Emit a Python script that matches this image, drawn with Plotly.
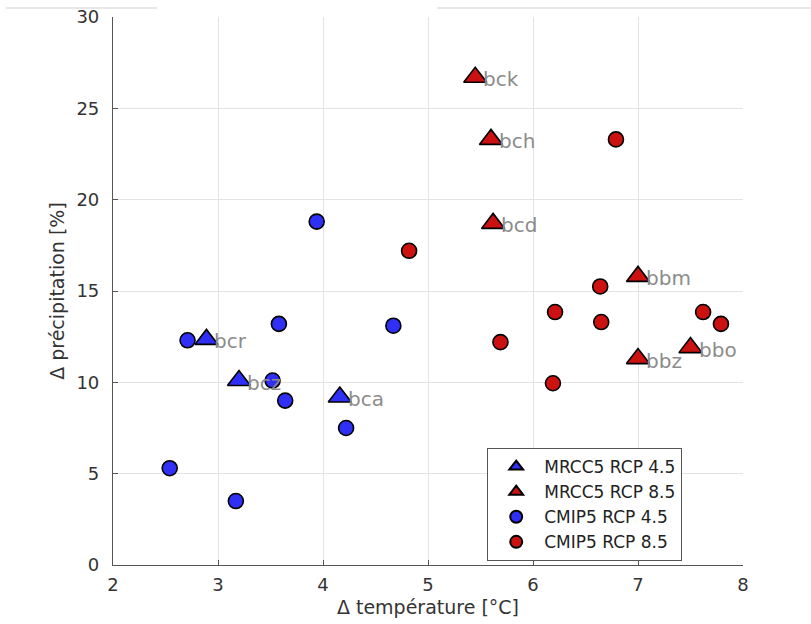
import plotly.graph_objects as go

# MRCC5 RCP 4.5 (triangles, blue)
mrcc45_names = ["bcr", "bcz", "bca"]
mrcc45_dt = [2.89, 3.20, 4.16]
mrcc45_dp = [12.35, 10.1, 9.2]

# MRCC5 RCP 8.5 (triangles, red)
mrcc85_names = ["bck", "bch", "bcd", "bbm", "bbz", "bbo"]
mrcc85_dt = [5.45, 5.60, 5.62, 7.00, 7.00, 7.50]
mrcc85_dp = [26.7, 23.3, 18.7, 15.8, 11.3, 11.9]

# CMIP5 RCP 4.5 (circles, blue)
cmip45_dt = [2.71, 2.54, 3.17, 3.52, 3.64, 3.58, 3.94, 4.22, 4.67]
cmip45_dp = [12.3, 5.3, 3.5, 10.1, 9.0, 13.2, 18.8, 7.5, 13.1]

# CMIP5 RCP 8.5 (circles, red)
cmip85_dt = [4.82, 5.69, 6.19, 6.21, 6.64, 6.65, 6.79, 7.62, 7.79]
cmip85_dp = [17.2, 12.2, 9.95, 13.85, 15.25, 13.3, 23.3, 13.85, 13.2]

x_ticks = [2, 3, 4, 5, 6, 7, 8]
y_ticks = [0, 5, 10, 15, 20, 25, 30]

BLUE = "#2f2ff5"
RED = "#cc1111"
FONT = "DejaVu Sans"

fig = go.Figure()

fig.add_trace(go.Scatter(x=cmip45_dt, y=cmip45_dp, mode="markers", name="CMIP5 RCP 4.5",
                         marker=dict(symbol="circle", size=15, color=BLUE,
                                     line=dict(color="black", width=1.6)), legendrank=3))
fig.add_trace(go.Scatter(x=cmip85_dt, y=cmip85_dp, mode="markers", name="CMIP5 RCP 8.5",
                         marker=dict(symbol="circle", size=15, color=RED,
                                     line=dict(color="black", width=1.6)), legendrank=4))
fig.add_trace(go.Scatter(x=mrcc45_dt, y=mrcc45_dp, mode="markers", name="MRCC5 RCP 4.5",
                         marker=dict(symbol="triangle-up", size=20, color=BLUE,
                                     line=dict(color="black", width=1.6)), legendrank=1))
fig.add_trace(go.Scatter(x=mrcc85_dt, y=mrcc85_dp, mode="markers", name="MRCC5 RCP 8.5",
                         marker=dict(symbol="triangle-up", size=20, color=RED,
                                     line=dict(color="black", width=1.6)), legendrank=2))

for names, xs, ys in [(mrcc45_names, mrcc45_dt, mrcc45_dp), (mrcc85_names, mrcc85_dt, mrcc85_dp)]:
    for n, xv, yv in zip(names, xs, ys):
        fig.add_annotation(x=xv, y=yv, text=n, showarrow=False, xanchor="left",
                           yanchor="middle", xshift=6, yshift=-2,
                           font=dict(family=FONT, size=20, color="#8c8c8c"))

# cropping artifact lines at top of the reference image
LINE_Y = 1.0 + 9 / 548
fig.add_shape(type="line", xref="paper", yref="paper", x0=-0.17, x1=0.07,
              y0=LINE_Y, y1=LINE_Y, line=dict(color="#cfcfcf", width=1))
fig.add_shape(type="line", xref="paper", yref="paper", x0=0.515, x1=1.11,
              y0=LINE_Y, y1=LINE_Y, line=dict(color="#cfcfcf", width=1))

axis_common = dict(showline=True, linecolor="#555555", linewidth=1.2, ticks="inside",
                   ticklen=5, tickcolor="#555555", showgrid=True, gridcolor="#e3e3e3",
                   gridwidth=1, zeroline=False, mirror=False, automargin=False,
                   tickfont=dict(family=FONT, size=18, color="#333333"))

fig.update_xaxes(range=[2, 8], tickvals=x_ticks, ticktext=[str(t) for t in x_ticks],
                 title=dict(text="Δ température [°C]", standoff=6,
                            font=dict(family=FONT, size=19, color="#333333")),
                 ticklabelstandoff=3, **axis_common)
fig.update_yaxes(range=[0, 30], tickvals=y_ticks, ticktext=[str(t) for t in y_ticks],
                 title=dict(text="Δ précipitation [%]", standoff=6,
                            font=dict(family=FONT, size=19, color="#333333")),
                 ticklabelstandoff=9, **axis_common)

fig.update_layout(
    width=811, height=624,
    margin=dict(l=113, r=68, t=17, b=59, autoexpand=False),
    paper_bgcolor="white", plot_bgcolor="white",
    showlegend=True,
    legend=dict(x=0.594, y=0.2135, xanchor="left", yanchor="top",
                bgcolor="white", bordercolor="#555555", borderwidth=1,
                font=dict(family=FONT, size=17, color="#222222"),
                itemwidth=46,
                itemsizing="constant", tracegroupgap=0, traceorder="normal"),
)

fig.write_html("out.html")
